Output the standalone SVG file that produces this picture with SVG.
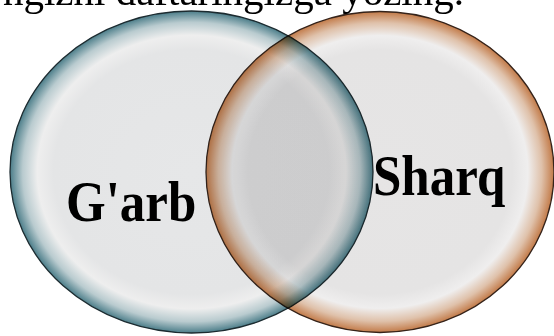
<svg xmlns="http://www.w3.org/2000/svg" width="554" height="336" viewBox="0 0 554 336">
  <style>
    .title { font-family: "Liberation Serif", "Times New Roman", serif; font-size: 41px; fill: #000; }
    .label { font-family: "Liberation Serif", "Times New Roman", serif; font-size: 51px; font-weight: bold; fill: #000; }
  </style>
  <defs>
    <radialGradient id="gradWest" cx="0.5" cy="0.5" r="0.5">
      <stop offset="0" stop-color="#e6e7e8"/>
      <stop offset="0.76" stop-color="#e4e5e6"/>
      <stop offset="0.85" stop-color="#eeeeee"/>
      <stop offset="0.93" stop-color="#b9cbcf"/>
      <stop offset="1" stop-color="#4b7d89"/>
    </radialGradient>
    <radialGradient id="gradEast" cx="0.5" cy="0.5" r="0.5">
      <stop offset="0" stop-color="#e6e5e5"/>
      <stop offset="0.76" stop-color="#e5e4e4"/>
      <stop offset="0.85" stop-color="#efeeee"/>
      <stop offset="0.93" stop-color="#dfc1aa"/>
      <stop offset="1" stop-color="#c27a48"/>
    </radialGradient>
  </defs>
  <rect x="0" y="0" width="554" height="336" fill="#ffffff"/>
  <text class="title" x="464" y="5" text-anchor="end">ngizni daftaringizga yozing.</text>
  <g id="garb">
    <ellipse cx="191.5" cy="172" rx="181.5" ry="161" fill="url(#gradWest)" stroke="#1c2b30" stroke-width="1.3"/>
    <text class="label" transform="translate(66,221) scale(1,1.1)">G'arb</text>
  </g>
  <g id="sharq" style="mix-blend-mode:multiply">
    <ellipse cx="380" cy="172" rx="174" ry="160.5" fill="url(#gradEast)" stroke="#35231a" stroke-width="1.3"/>
    <text class="label" transform="translate(373,195) scale(1,1.1)">Sharq</text>
  </g>
  <g id="connectors"/>
</svg>
